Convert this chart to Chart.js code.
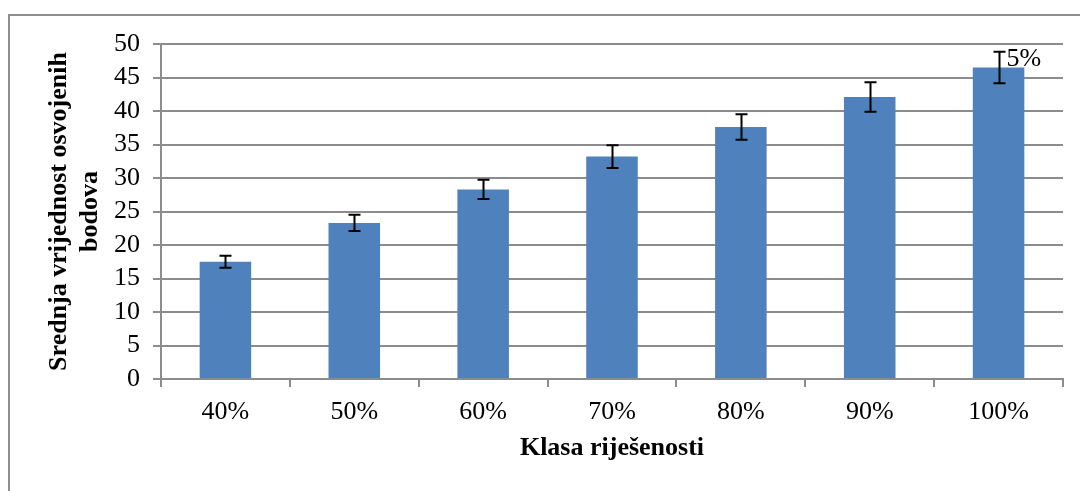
<!DOCTYPE html>
<html lang="hr">
<head>
  <meta charset="UTF-8">
  <title>Srednja vrijednost osvojenih bodova</title>
  <script src="https://cdn.jsdelivr.net/npm/chart.js"></script>
  <style>
    html, body {
      margin: 0;
      padding: 0;
      background: #ffffff;
    }
    .chart-container {
      position: relative;
      width: 1080px;
      height: 491px;
      overflow: hidden;
    }
    .frame {
      position: absolute;
      left: 8px;
      top: 14px;
      width: 1200px;
      height: 600px;
      border: 2px solid #8e8e8e;
    }
    canvas {
      position: absolute;
      left: 0;
      top: 0;
    }
  </style>
</head>
<body>
  <div class="chart-container">
    <div class="frame"></div>
    <canvas id="scoreChart" width="1080" height="491"></canvas>
  </div>
  <script>
    // Data
    const classLabels = ['40%', '50%', '60%', '70%', '80%', '90%', '100%'];
    const meanScores = [17.5, 23.3, 28.3, 33.2, 37.6, 42.1, 46.5];
    const errorMargins = [0.9, 1.2, 1.45, 1.7, 1.9, 2.2, 2.35];
    const barNotes = ['', '', '', '', '', '', '5%'];
    const yTicks = [0, 5, 10, 15, 20, 25, 30, 35, 40, 45, 50];

    const serif = "'Liberation Serif', 'Times New Roman', serif";
    const gridGray = '#8c8c8c';
    const fontSize = 26;

    Chart.defaults.color = '#000000';
    Chart.defaults.font.family = serif;

    // Draws the error bars and the small note above the last bar
    const errorBarPlugin = {
      id: 'errorBars',
      afterDatasetsDraw(chart) {
        const ctx = chart.ctx;
        const yScale = chart.scales.y;
        const bars = chart.getDatasetMeta(0).data;
        ctx.save();
        ctx.strokeStyle = '#000000';
        ctx.lineWidth = 2;
        bars.forEach((bar, i) => {
          const top = yScale.getPixelForValue(meanScores[i] + errorMargins[i]);
          const bottom = yScale.getPixelForValue(meanScores[i] - errorMargins[i]);
          const x = Math.round(bar.x) + 0.5;
          ctx.beginPath();
          ctx.moveTo(x, top);
          ctx.lineTo(x, bottom);
          ctx.moveTo(x - 6, top);
          ctx.lineTo(x + 6, top);
          ctx.moveTo(x - 6, bottom);
          ctx.lineTo(x + 6, bottom);
          ctx.stroke();

          if (barNotes[i]) {
            ctx.fillStyle = '#000000';
            ctx.font = fontSize + 'px ' + serif;
            ctx.textAlign = 'left';
            ctx.textBaseline = 'alphabetic';
            ctx.fillText(barNotes[i], x + 7, top + 14);
          }
        });
        ctx.restore();
      }
    };

    new Chart(document.getElementById('scoreChart'), {
      type: 'bar',
      data: {
        labels: classLabels,
        datasets: [{
          label: 'Srednja vrijednost',
          data: meanScores,
          backgroundColor: '#4f81bd',
          borderWidth: 0,
          categoryPercentage: 1,
          barPercentage: 0.4
        }]
      },
      options: {
        responsive: false,
        animation: false,
        layout: {
          padding: { top: 44, right: 17, bottom: 0, left: 0 }
        },
        plugins: {
          legend: { display: false },
          tooltip: { enabled: false }
        },
        scales: {
          x: {
            grid: {
              offset: true,
              drawOnChartArea: false,
              color: gridGray,
              lineWidth: 2,
              tickLength: 8
            },
            border: { color: gridGray, width: 2 },
            ticks: {
              font: { size: fontSize },
              padding: 10,
              maxRotation: 0,
              autoSkip: false
            },
            title: {
              display: true,
              text: 'Klasa riješenosti',
              font: { size: fontSize, weight: 'bold' },
              padding: { top: 4, bottom: 27.5 }
            },
            afterFit(scale) {
              scale.height = 112;
            }
          },
          y: {
            min: 0,
            max: 50,
            afterBuildTicks(scale) {
              scale.ticks = yTicks.map(v => ({ value: v }));
            },
            grid: {
              color: gridGray,
              lineWidth: 2,
              tickLength: 8
            },
            border: { color: gridGray, width: 2 },
            ticks: {
              font: { size: fontSize },
              padding: 13,
              autoSkip: false
            },
            title: {
              display: true,
              text: ['Srednja vrijednost osvojenih', 'bodova'],
              font: { size: fontSize, weight: 'bold' },
              padding: { top: 43.4, bottom: 0 }
            },
            afterFit(scale) {
              scale.width = 161;
            }
          }
        }
      },
      plugins: [errorBarPlugin]
    });
  </script>
</body>
</html>
